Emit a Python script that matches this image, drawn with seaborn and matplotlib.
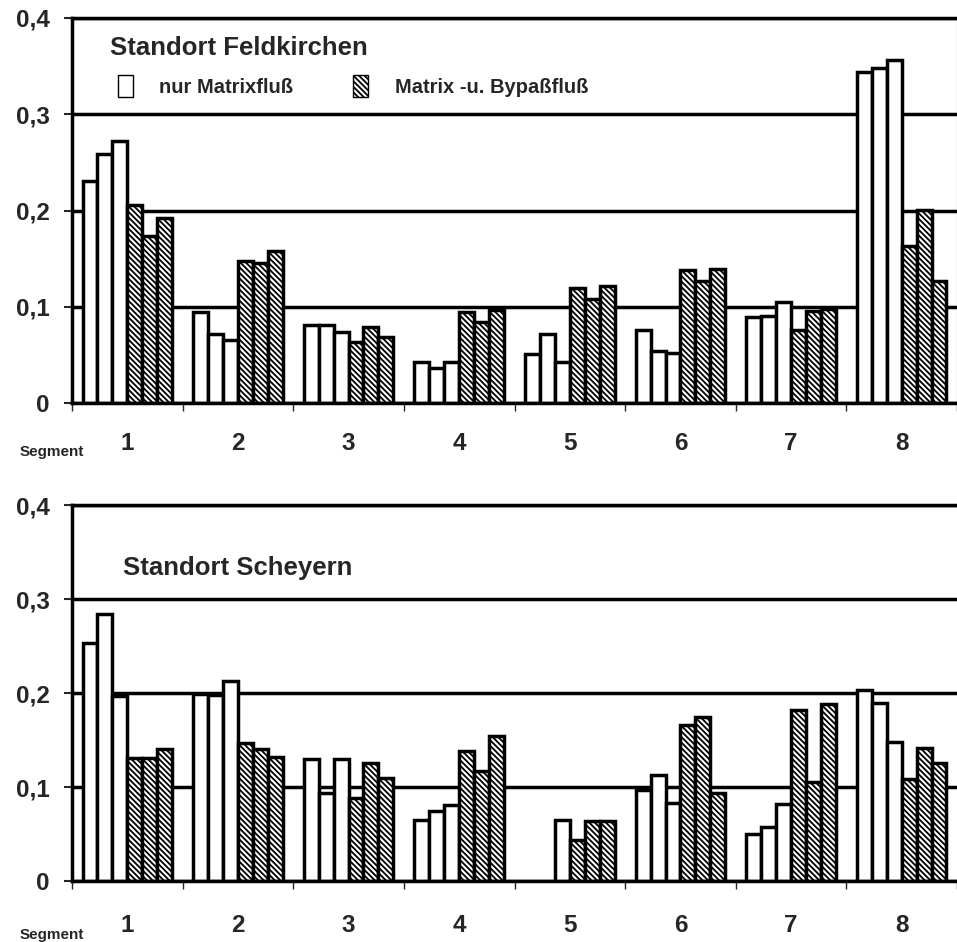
import numpy as np
import pandas as pd
import matplotlib
matplotlib.use('Agg')
import matplotlib.pyplot as plt
from matplotlib.patches import Patch
import seaborn as sns

# Werte (je Segment 3 Wiederholungen)
segmente = ['1', '2', '3', '4', '5', '6', '7', '8']
feld_matrix = [[0.231, 0.259, 0.272], [0.095, 0.072, 0.065], [0.081, 0.081, 0.074],
               [0.043, 0.036, 0.043], [0.051, 0.072, 0.043], [0.076, 0.054, 0.052],
               [0.089, 0.090, 0.105], [0.344, 0.348, 0.356]]
feld_bypass = [[0.206, 0.174, 0.192], [0.148, 0.145, 0.158], [0.063, 0.079, 0.069],
               [0.095, 0.084, 0.097], [0.120, 0.108, 0.122], [0.138, 0.127, 0.139],
               [0.076, 0.096, 0.098], [0.163, 0.201, 0.127]]
sche_matrix = [[0.253, 0.284, 0.197], [0.199, 0.198, 0.213], [0.130, 0.094, 0.130],
               [0.065, 0.075, 0.081], [np.nan, np.nan, 0.065], [0.097, 0.113, 0.083],
               [0.050, 0.057, 0.082], [0.203, 0.189, 0.148]]
sche_bypass = [[0.131, 0.131, 0.140], [0.147, 0.140, 0.132], [0.088, 0.126, 0.110],
               [0.138, 0.117, 0.154], [0.044, 0.064, 0.064], [0.166, 0.175, 0.094],
               [0.182, 0.105, 0.188], [0.109, 0.141, 0.126]]
yticks = [0, 0.1, 0.2, 0.3, 0.4]
ylabels = ['0', '0,1', '0,2', '0,3', '0,4']
balken = ['M1', 'M2', 'M3', 'B1', 'B2', 'B3']
schraffur = '\\\\\\\\\\\\'


def long_df(matrix, bypass):
    rows = []
    for i, s in enumerate(segmente):
        for r in range(3):
            rows.append((s, balken[r], matrix[i][r]))
        for r in range(3):
            rows.append((s, balken[r + 3], bypass[i][r]))
    df = pd.DataFrame(rows, columns=['segment', 'balken', 'wert'])
    return df.dropna()


sns.set_style('ticks')
plt.rcParams['font.family'] = ['Liberation Sans', 'DejaVu Sans']
plt.rcParams['font.weight'] = 'bold'
plt.rcParams['hatch.linewidth'] = 1.3
plt.rcParams['hatch.color'] = 'black'

fig = plt.figure(figsize=(9.57, 9.42), dpi=100)
ax1 = fig.add_axes([72 / 957, 1 - 403 / 942, 885 / 957, 385 / 942])
ax2 = fig.add_axes([72 / 957, 1 - 881 / 942, 885 / 957, 376 / 942])

for ax, df, pad in [(ax1, long_df(feld_matrix, feld_bypass), 21),
                    (ax2, long_df(sche_matrix, sche_bypass), 24)]:
    sns.barplot(data=df, x='segment', y='wert', hue='balken', order=segmente,
                hue_order=balken, palette=['white'] * 6, saturation=1,
                edgecolor='black', linewidth=2.5, width=0.81, gap=0,
                legend=False, ax=ax)
    for c in ax.containers[3:]:
        for p in c:
            p.set_hatch(schraffur)
    ax.set_xlim(-0.5, 7.5)
    ax.set_ylim(0, 0.4)
    ax.set_yticks(yticks)
    ax.set_yticklabels(ylabels, fontsize=17.5, fontweight='bold')
    ax.set_xticks(range(8))
    ax.set_xticklabels(segmente, fontsize=17.5, fontweight='bold')
    ax.set_xticks(np.arange(-0.5, 8, 1), minor=True)
    ax.tick_params(axis='x', which='major', length=0, pad=pad)
    ax.tick_params(axis='x', which='minor', length=6, width=1, direction='out')
    ax.tick_params(axis='y', length=6, width=1.5, pad=10)
    ax.set_xlabel('')
    ax.set_ylabel('')
    ax.yaxis.grid(True, color='black', lw=2.5)
    ax.set_axisbelow(True)
    for sp in ['left', 'bottom', 'top']:
        ax.spines[sp].set_linewidth(2.5)
        ax.spines[sp].set_color('black')

ax1.spines['right'].set_linewidth(0.8)
ax1.spines['right'].set_color('#555555')
ax2.spines['right'].set_visible(False)

ax1.text(0.043, 0.922, 'Standort Feldkirchen', transform=ax1.transAxes,
         fontsize=18.5, fontweight='bold', va='center', ha='left')
ax2.text(0.058, 0.832, 'Standort Scheyern', transform=ax2.transAxes,
         fontsize=18.5, fontweight='bold', va='center', ha='left')

handles = [Patch(facecolor='white', edgecolor='black', lw=1),
           Patch(facecolor='white', edgecolor='black', lw=1, hatch=schraffur)]
ax1.legend(handles, ['nur Matrixfluß', 'Matrix -u. Bypaßfluß'], loc='center left',
           bbox_to_anchor=(0.031, 0.823), ncol=2, frameon=False,
           handlelength=0.75, handleheight=1.3, handletextpad=1.3,
           columnspacing=3.0, prop={'weight': 'bold', 'size': 14.5})

fig.text(20 / 957, 1 - 452 / 942, 'Segment', fontsize=11, fontweight='bold', va='center')
fig.text(20 / 957, 1 - 935 / 942, 'Segment', fontsize=11, fontweight='bold', va='center')

fig.savefig('out.png', dpi=100)
